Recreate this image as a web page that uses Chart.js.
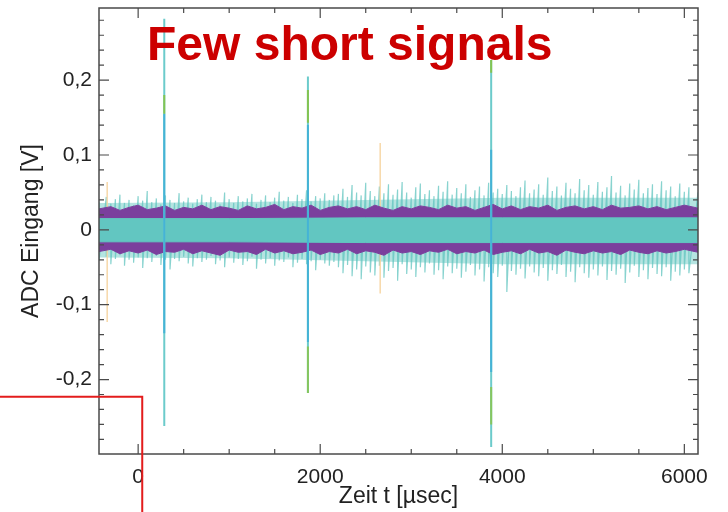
<!DOCTYPE html>
<html>
<head>
<meta charset="utf-8">
<script src="https://cdn.jsdelivr.net/npm/chart.js@4"></script>
<style>
  html, body { margin: 0; padding: 0; background: #fff; }
  #wrap { width: 728px; height: 512px; }
</style>
</head>
<body>
<div id="wrap"><canvas id="adcChart" width="728" height="512"></canvas></div>
<script>
// ======================================================
// DATA
// ======================================================
const chartTitle = 'Few short signals';
const xTitle = 'Zeit t [\u00b5sec]';
const yTitle = 'ADC Eingang [V]';

// axis ticks
const xTickValues = [0, 500, 1000, 1500, 2000, 2500, 3000, 3500, 4000, 4500, 5000, 5500, 6000];
const xMajorValues = [0, 2000, 4000, 6000];
const xMajorLabels = ['0', '2000', '4000', '6000'];
const yTickValues = [-0.28, -0.26, -0.24, -0.22, -0.20, -0.18, -0.16, -0.14, -0.12, -0.10,
  -0.08, -0.06, -0.04, -0.02, 0, 0.02, 0.04, 0.06, 0.08, 0.10,
  0.12, 0.14, 0.16, 0.18, 0.20, 0.22, 0.24, 0.26, 0.28];
const yMajorValues = [-0.2, -0.1, 0, 0.1, 0.2];
const yMajorLabels = ['-0,2', '-0,1', '0', '0,1', '0,2'];

// noise envelope samples (µs), about every 50 µs
const noiseT = [-430,-350,-300,-250,-200,-150,-100,-50,0,50,100,150,200,250,300,350,400,450,500,550,
  600,650,700,750,800,850,900,950,1000,1050,1100,1150,1200,1250,1300,1350,1400,1450,1500,1550,
  1600,1650,1700,1750,1800,1850,1900,1950,2000,2050,2100,2150,2200,2250,2300,2350,2400,2450,2500,2550,
  2600,2650,2700,2750,2800,2850,2900,2950,3000,3050,3100,3150,3200,3250,3300,3350,3400,3450,3500,3550,
  3600,3650,3700,3750,3800,3850,3900,3950,4000,4050,4100,4150,4200,4250,4300,4350,4400,4450,4500,4550,
  4600,4650,4700,4750,4800,4850,4900,4950,5000,5050,5100,5150,5200,5250,5300,5350,5400,5450,5500,5550,
  5600,5650,5700,5750,5800,5850,5900,5950,6000,6050,6150];
const noiseHi = [0.038,0.044,0.035,0.041,0.047,0.036,0.040,0.033,0.045,0.039,
  0.052,0.037,0.042,0.034,0.046,0.040,0.036,0.049,0.038,0.043,
  0.035,0.041,0.047,0.037,0.044,0.039,0.034,0.050,0.041,0.036,
  0.045,0.038,0.042,0.048,0.035,0.040,0.046,0.037,0.043,0.051,
  0.039,0.044,0.036,0.047,0.041,0.053,0.038,0.045,0.042,0.049,
  0.040,0.046,
  0.048,0.055,0.044,0.060,0.050,0.046,0.063,0.052,0.045,0.058,
  0.049,0.061,0.047,0.054,0.064,0.050,0.043,0.057,0.062,0.048,
  0.053,0.045,0.059,0.051,0.065,0.047,0.056,0.049,0.061,0.044,
  0.053,0.058,0.046,0.063,0.050,0.055,0.048,0.060,0.052,0.045,
  0.057,0.066,0.049,0.054,0.061,0.047,0.070,0.052,0.058,0.046,
  0.063,0.055,0.049,0.068,0.053,0.060,0.047,0.064,0.051,0.057,
  0.072,0.050,0.059,0.046,0.062,0.054,0.067,0.049,0.056,0.061,
  0.048,0.065,0.053,0.058,0.045,0.062,0.051,0.057,0.050];
const noiseLo = [-0.041,-0.036,-0.046,-0.039,-0.034,-0.048,-0.040,-0.044,-0.037,-0.051,
  -0.038,-0.043,-0.035,-0.047,-0.040,-0.053,-0.039,-0.042,-0.036,-0.045,
  -0.049,-0.038,-0.043,-0.040,-0.035,-0.046,-0.041,-0.050,-0.037,-0.044,
  -0.039,-0.047,-0.042,-0.036,-0.052,-0.040,-0.045,-0.038,-0.048,-0.041,
  -0.043,-0.037,-0.050,-0.044,-0.039,-0.046,-0.042,-0.054,-0.040,-0.045,
  -0.048,-0.043,
  -0.050,-0.058,-0.047,-0.062,-0.053,-0.066,-0.049,-0.057,-0.061,-0.048,
  -0.064,-0.055,-0.051,-0.068,-0.046,-0.059,-0.053,-0.063,-0.050,-0.057,
  -0.045,-0.060,-0.054,-0.066,-0.049,-0.058,-0.052,-0.064,-0.056,-0.047,
  -0.061,-0.053,-0.069,-0.050,-0.058,-0.063,-0.048,-0.083,-0.055,-0.060,
  -0.052,-0.065,-0.049,-0.057,-0.062,-0.051,-0.068,-0.054,-0.059,-0.047,
  -0.063,-0.056,-0.070,-0.050,-0.058,-0.064,-0.053,-0.061,-0.049,-0.067,
  -0.055,-0.060,-0.052,-0.071,-0.057,-0.048,-0.063,-0.054,-0.066,-0.051,
  -0.059,-0.062,-0.050,-0.068,-0.056,-0.061,-0.053,-0.058,-0.055];

// purple band samples, about every 100 µs
const bandT = [-430,-300,-200,-100,0,100,200,300,400,500,600,700,800,900,1000,1100,1200,1300,1400,1500,
  1600,1700,1800,1900,2000,2100,2200,2300,2400,2500,2600,2700,2800,2900,3000,3100,3200,3300,3400,3500,
  3600,3700,3800,3900,4000,4100,4200,4300,4400,4500,4600,4700,4800,4900,5000,5100,5200,5300,5400,5500,
  5600,5700,5800,5900,6000,6150];
const purpleHi = [0.028,0.031,0.026,0.030,0.033,0.027,0.029,0.032,0.026,0.030,
  0.028,0.033,0.027,0.031,0.029,0.026,0.032,0.028,0.030,0.034,
  0.027,0.031,0.029,0.033,0.026,0.030,0.032,0.028,0.031,0.027,
  0.033,0.029,0.026,0.031,0.028,0.032,0.030,0.027,0.033,0.029,
  0.031,0.026,0.030,0.034,0.028,0.032,0.027,0.031,0.029,0.033,
  0.026,0.030,0.032,0.028,0.031,0.027,0.033,0.029,0.030,0.032,
  0.028,0.031,0.027,0.030,0.033,0.029];
const purpleLo = [-0.029,-0.026,-0.032,-0.028,-0.031,-0.027,-0.033,-0.029,-0.030,-0.026,
  -0.032,-0.028,-0.031,-0.034,-0.027,-0.030,-0.029,-0.033,-0.026,-0.031,
  -0.028,-0.032,-0.030,-0.027,-0.033,-0.029,-0.031,-0.026,-0.032,-0.028,
  -0.030,-0.034,-0.027,-0.031,-0.029,-0.033,-0.028,-0.030,-0.026,-0.032,
  -0.029,-0.031,-0.027,-0.033,-0.030,-0.028,-0.032,-0.026,-0.031,-0.029,
  -0.034,-0.027,-0.030,-0.032,-0.028,-0.031,-0.029,-0.033,-0.027,-0.030,
  -0.032,-0.028,-0.031,-0.029,-0.026,-0.030];

// solid teal core and the denser haze around the band
const coreT  = [-430, 1000, 2500, 4000, 6150];
const coreHi = [0.015, 0.015, 0.016, 0.016, 0.016];
const coreLo = [-0.016, -0.016, -0.017, -0.017, -0.017];
const hazeHi = [0.036, 0.037, 0.040, 0.043, 0.043];
const hazeLo = [-0.037, -0.038, -0.042, -0.046, -0.046];

// the three short signals
const spikeT      = [287, 1865, 3878];
const spikeTop    = [0.282, 0.205, 0.227];
const spikeBottom = [-0.262, -0.218, -0.290];
const greenTop    = [0.180, 0.187, 0.227];
const greenBottom = [0.155, 0.143, 0.210];
const blueTop     = [0.155, 0.140, 0.107];
const blueBottom  = [-0.138, -0.150, -0.190];
const lowGreenTop    = [null, -0.156, -0.210];
const lowGreenBottom = [null, -0.218, -0.260];

// faint single-channel glitches
const glitchT      = [-340, 2659];
const glitchTop    = [0.064, 0.116];
const glitchBottom = [-0.123, -0.085];

// red marker corner (in data units)
const markerT = 45;
const markerV = -0.223;

// ======================================================
// HELPERS
// ======================================================
const FONT = "'Liberation Sans', Arial, Helvetica, sans-serif";

function segment(t, a, b, color, width, order) {
  return {
    type: 'line',
    data: [{ x: t, y: a }, { x: t, y: b }],
    borderColor: color,
    borderWidth: width,
    pointRadius: 0,
    fill: false,
    order
  };
}

function bandLine(ts, vals, color, fill, order, width) {
  return {
    type: 'line',
    data: ts.map((t, i) => ({ x: t, y: vals[i] })),
    borderColor: color,
    backgroundColor: color,
    borderWidth: width,
    pointRadius: 0,
    fill,
    order
  };
}

function near(a, b) { return Math.abs(a - b) < 1e-6; }

function labelFor(v, values, labels) {
  const i = values.findIndex(m => near(m, v));
  return i >= 0 ? labels[i] : '';
}

// noise traced as one trace going hi/lo at every sample
const noisePoints = [];
noiseT.forEach((t, i) => {
  noisePoints.push({ x: t, y: noiseHi[i] });
  noisePoints.push({ x: t, y: noiseLo[i] });
});

const datasets = [];

datasets.push(bandLine(coreT, hazeHi, 'rgba(120,205,200,0.55)', '+1', 22, 0));
datasets.push(bandLine(coreT, hazeLo, 'rgba(120,205,200,0.55)', false, 22, 0));

datasets.push({
  type: 'line',
  data: noisePoints,
  borderColor: 'rgba(96,196,191,0.75)',
  borderWidth: 1.2,
  pointRadius: 0,
  fill: false,
  order: 20
});

glitchT.forEach((t, i) => {
  datasets.push(segment(t, glitchTop[i], glitchBottom[i], 'rgba(246,212,160,0.9)', 1.5, 15));
});

datasets.push(bandLine(bandT, purpleHi, '#7b3f9d', '+1', 12, 1));
datasets.push(bandLine(bandT, purpleLo, '#7b3f9d', false, 12, 1));

datasets.push(bandLine(coreT, coreHi, '#62c6c1', '+1', 10, 1));
datasets.push(bandLine(coreT, coreLo, '#62c6c1', false, 10, 1));

spikeT.forEach((t, i) => {
  datasets.push(segment(t, spikeTop[i], spikeBottom[i], '#6ccbcb', 2, 5));
  datasets.push(segment(t, greenTop[i], greenBottom[i], '#84c451', 2, 4));
  datasets.push(segment(t, blueTop[i], blueBottom[i], '#45b3d6', 2, 4));
  if (lowGreenTop[i] !== null) {
    datasets.push(segment(t, lowGreenTop[i], lowGreenBottom[i], '#86c65e', 2, 4));
  }
});

// ======================================================
// PLUGINS: frame with inward ticks, title, red marker
// ======================================================
const framePlugin = {
  id: 'frame',
  afterDatasetsDraw(chart) {
    const { ctx, chartArea: a, scales: { x, y } } = chart;
    ctx.save();
    ctx.strokeStyle = '#4a4a4a';
    ctx.lineWidth = 1.5;
    ctx.strokeRect(a.left, a.top, a.right - a.left, a.bottom - a.top);
    ctx.lineWidth = 1.2;
    ctx.beginPath();
    x.ticks.forEach(tk => {
      const px = x.getPixelForValue(tk.value);
      const len = xMajorValues.some(m => near(m, tk.value)) ? 10 : 5;
      ctx.moveTo(px, a.bottom); ctx.lineTo(px, a.bottom - len);
      ctx.moveTo(px, a.top); ctx.lineTo(px, a.top + len);
    });
    y.ticks.forEach(tk => {
      const py = y.getPixelForValue(tk.value);
      const len = yMajorValues.some(m => near(m, tk.value)) ? 10 : 5;
      ctx.moveTo(a.left, py); ctx.lineTo(a.left + len, py);
      ctx.moveTo(a.right, py); ctx.lineTo(a.right - len, py);
    });
    ctx.stroke();
    ctx.restore();
  }
};

const titlePlugin = {
  id: 'innerTitle',
  afterDatasetsDraw(chart) {
    const { ctx, chartArea: a } = chart;
    ctx.save();
    ctx.fillStyle = '#cc0000';
    ctx.font = 'bold 48px ' + FONT;
    ctx.textBaseline = 'alphabetic';
    ctx.textAlign = 'left';
    ctx.fillText(chartTitle, a.left + 48, a.top + 52);
    ctx.restore();
  }
};

const markerPlugin = {
  id: 'marker',
  afterDraw(chart) {
    const { ctx, scales: { x, y } } = chart;
    const px = x.getPixelForValue(markerT);
    const py = y.getPixelForValue(markerV);
    ctx.save();
    ctx.strokeStyle = '#e31c1c';
    ctx.lineWidth = 2;
    ctx.beginPath();
    ctx.moveTo(0, py);
    ctx.lineTo(px, py);
    ctx.lineTo(px, chart.height);
    ctx.stroke();
    ctx.restore();
  }
};

// ======================================================
// CHART
// ======================================================
const ctx = document.getElementById('adcChart').getContext('2d');
new Chart(ctx, {
  type: 'line',
  data: { datasets },
  options: {
    responsive: false,
    animation: false,
    layout: { padding: { top: 8, right: 30, left: 0, bottom: 0 } },
    plugins: { legend: { display: false }, tooltip: { enabled: false } },
    elements: { line: { tension: 0 } },
    scales: {
      x: {
        type: 'linear',
        min: -430,
        max: 6150,
        offset: false,
        grid: { display: false, drawTicks: false },
        border: { display: false },
        afterBuildTicks(scale) { scale.ticks = xTickValues.map(v => ({ value: v })); },
        afterFit(scale) {
          scale.height = 58;
          scale.paddingLeft = 0;
          scale.paddingRight = 0;
        },
        ticks: {
          autoSkip: false,
          maxRotation: 0,
          padding: 11,
          color: '#222',
          font: { family: FONT, size: 21 },
          callback: v => labelFor(v, xMajorValues, xMajorLabels)
        },
        title: {
          display: true,
          text: xTitle,
          color: '#222',
          font: { family: FONT, size: 23 },
          padding: { top: 2, bottom: 2 }
        }
      },
      y: {
        type: 'linear',
        min: -0.2995,
        max: 0.2964,
        grid: { display: false, drawTicks: false },
        border: { display: false },
        afterBuildTicks(scale) { scale.ticks = yTickValues.map(v => ({ value: v })); },
        afterFit(scale) {
          scale.width = 99;
          scale.paddingTop = 0;
          scale.paddingBottom = 0;
        },
        ticks: {
          autoSkip: false,
          padding: 7,
          color: '#222',
          font: { family: FONT, size: 21 },
          callback: v => labelFor(v, yMajorValues, yMajorLabels)
        },
        title: {
          display: true,
          text: yTitle,
          color: '#222',
          font: { family: FONT, size: 23 },
          padding: { top: 18, bottom: 0 }
        }
      }
    }
  },
  plugins: [framePlugin, titlePlugin, markerPlugin]
});
</script>
</body>
</html>
